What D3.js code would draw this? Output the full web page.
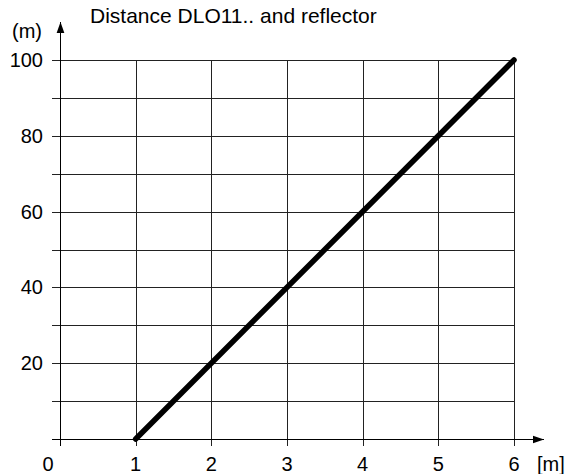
<!DOCTYPE html>
<html>
<head>
<meta charset="utf-8">
<script src="https://cdn.jsdelivr.net/npm/d3@7"></script>
<style>
  body { margin: 0; background: #fff; }
  text { font-family: "Liberation Sans", Arial, sans-serif; font-size: 20px; fill: #000; }
</style>
</head>
<body>
<svg width="567" height="474"></svg>
<script>
const xTicks = [0, 1, 2, 3, 4, 5, 6];
const yTicks = [20, 40, 60, 80, 100];
const yGrid = [10, 20, 30, 40, 50, 60, 70, 80, 90, 100];
const lineX = [1, 6];
const lineY = [0, 100];

const svg = d3.select('svg');

const x = d3.scaleLinear().domain([0, 6]).range([60, 514]);
const y = d3.scaleLinear().domain([0, 100]).range([439, 60]);

const grid = svg.append('g')
  .attr('stroke', '#222')
  .attr('stroke-width', 1)
  .attr('shape-rendering', 'crispEdges');

grid.selectAll('line.h')
  .data(yGrid)
  .enter()
  .append('line')
  .attr('x1', 52)
  .attr('x2', x(6))
  .attr('y1', d => Math.round(y(d)) + 0.5)
  .attr('y2', d => Math.round(y(d)) + 0.5);

grid.selectAll('line.v')
  .data(xTicks.slice(1))
  .enter()
  .append('line')
  .attr('x1', d => Math.round(x(d)) + 0.5)
  .attr('x2', d => Math.round(x(d)) + 0.5)
  .attr('y1', y(100))
  .attr('y2', 446);

// axes with arrows
svg.append('defs').append('marker')
  .attr('id', 'arrow')
  .attr('viewBox', '0 0 10 10')
  .attr('refX', 10)
  .attr('refY', 5)
  .attr('markerWidth', 11)
  .attr('markerHeight', 11)
  .attr('markerUnits', 'userSpaceOnUse')
  .attr('orient', 'auto')
  .append('path')
  .attr('d', 'M0,1.5 L10,5 L0,8.5 Z')
  .attr('fill', '#000');

svg.append('line')
  .attr('x1', 52).attr('x2', 544)
  .attr('y1', Math.round(y(0)) + 0.5).attr('y2', Math.round(y(0)) + 0.5)
  .attr('stroke', '#000')
  .attr('marker-end', 'url(#arrow)');

svg.append('line')
  .attr('x1', Math.round(x(0)) + 0.5).attr('x2', Math.round(x(0)) + 0.5)
  .attr('y1', 446).attr('y2', 22)
  .attr('stroke', '#000')
  .attr('marker-end', 'url(#arrow)');

svg.append('g')
  .selectAll('text')
  .data(yTicks)
  .enter()
  .append('text')
  .attr('x', 43)
  .attr('y', d => y(d) + 7)
  .attr('text-anchor', 'end')
  .text(d => d);

svg.append('g')
  .selectAll('text')
  .data(xTicks)
  .enter()
  .append('text')
  .attr('x', d => x(d) - (d === 0 ? 12 : 0))
  .attr('y', 471)
  .attr('text-anchor', 'middle')
  .text(d => d);

svg.append('text').attr('x', 537).attr('y', 471).text('[m]');
svg.append('text').attr('x', 12).attr('y', 38).text('(m)');
svg.append('text').attr('x', 90).attr('y', 23).style('font-size', '21px').text('Distance DLO11.. and reflector');

svg.append('path')
  .datum(lineX.map((d, i) => [d, lineY[i]]))
  .attr('fill', 'none')
  .attr('stroke', '#000')
  .attr('stroke-width', 5.5)
  .attr('stroke-linecap', 'round')
  .attr('d', d3.line().x(d => x(d[0])).y(d => y(d[1])));
</script>
</body>
</html>
